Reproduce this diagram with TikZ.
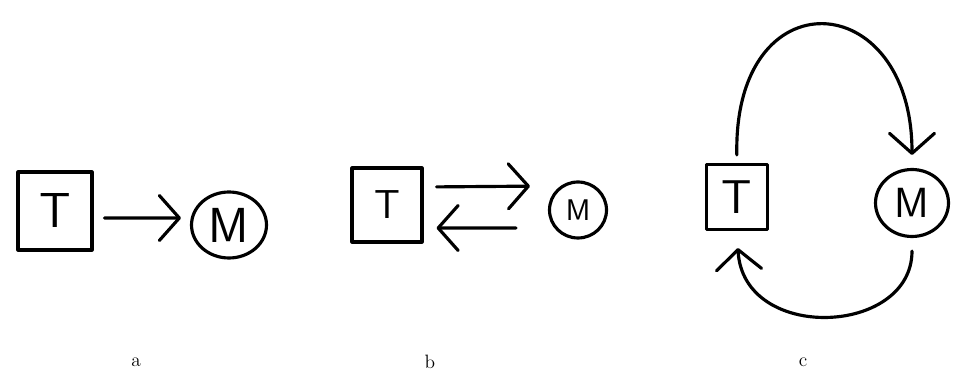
\documentclass[tikz,border=0pt]{standalone}
\usetikzlibrary{arrows.meta,shapes.geometric}
\newcommand{\handsize}[1]{\sffamily\fontsize{#1}{#1}\selectfont}
\tikzset{
  hand/.style={line width=1.8pt, line cap=round, line join=round},
  tbox/.style={hand, draw, rectangle, inner sep=0pt},
  mball/.style={hand, draw, ellipse, inner sep=0pt},
  flow/.style={hand, -{Straight Barb[length=4mm, width=9mm, line cap=round, line join=round]}},
}
\begin{document}
\begin{tikzpicture}[x=0.02cm, y=-0.02cm]
  \useasboundingbox (0,0) rectangle (953,374);
  % a
  \node[tbox, minimum width=1.48cm, minimum height=1.56cm, font=\handsize{28}] (Ta) at (55,211) {T};
  \node[mball, minimum width=1.5cm, minimum height=1.32cm, font=\handsize{28}] (Ma) at (229,225) {M};
  \draw[flow, shorten <=0.22cm, shorten >=0.18cm] ([yshift=-0.14cm]Ta.east) -- ([yshift=0.14cm]Ma.west);
  % b
  \node[tbox, minimum width=1.4cm, minimum height=1.48cm, font=\handsize{23}] (Tb) at (387,205) {T};
  \node[mball, minimum width=1.14cm, minimum height=1.12cm, font=\handsize{17}] (Mb) at (578,210) {M};
  \draw[flow, shorten <=0.26cm, shorten >=0.36cm] ([yshift=0.36cm]Tb.east) -- ([yshift=0.48cm]Mb.west);
  \draw[flow, shorten <=0.64cm, shorten >=0.26cm] ([yshift=-0.36cm]Mb.west) -- ([yshift=-0.46cm]Tb.east);
  % c
  \node[tbox, minimum width=1.22cm, minimum height=1.3cm, font=\handsize{27}] (Tc) at (737,197) {T};
  \node[mball, minimum width=1.46cm, minimum height=1.34cm, font=\handsize{24}] (Mc) at (912,203) {M};
  \draw[flow, shorten <=0.16cm, shorten >=0.26cm] (Tc.north) .. controls +(-4,-188) and +(0,-182) .. (Mc.north);
  \draw[flow, shorten <=0.26cm, shorten >=0.34cm] (Mc.south) .. controls +(0,98) and +(6,112) .. (Tc.south);
  % labels
  \foreach \lab/\xx in {a/136,b/430,c/803}
    \node[font=\fontsize{11}{13}\selectfont] (lab\lab) at (\xx,362) {\lab};
\end{tikzpicture}
\end{document}
